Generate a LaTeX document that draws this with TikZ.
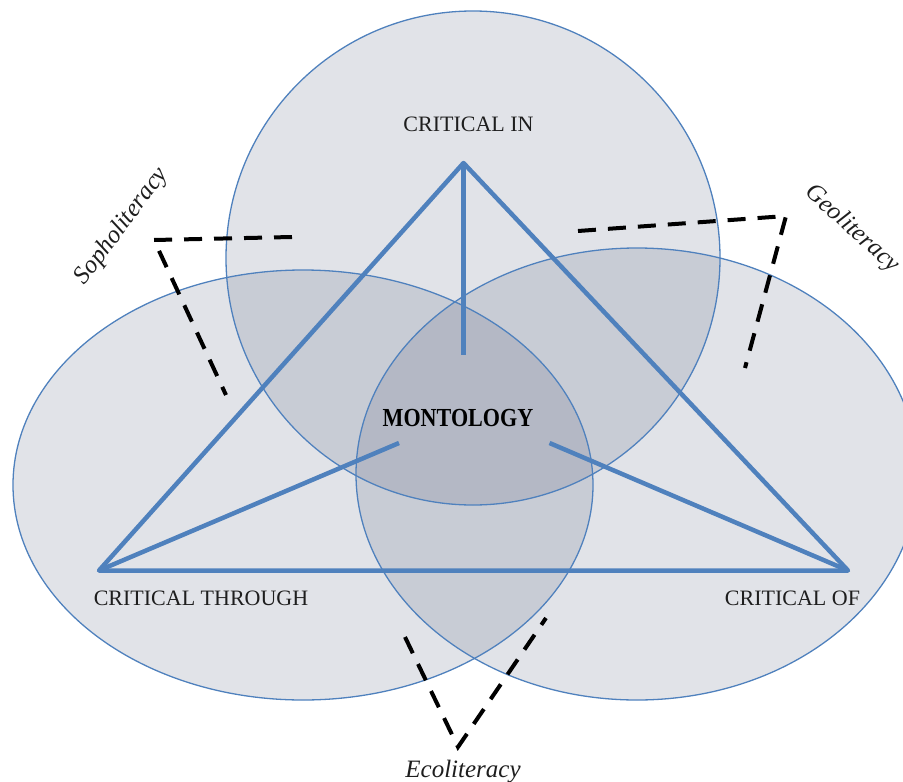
\documentclass[tikz,border=0pt]{standalone}
\usepackage{fontspec}
\setmainfont{Liberation Serif}
\newfontfamily\montfont[FakeStretch=0.85]{Liberation Serif}
\definecolor{vblue}{RGB}{79,129,189}
\definecolor{vfill}{RGB}{79,90,120}
\definecolor{vtext}{RGB}{30,30,30}
\begin{document}
\begin{tikzpicture}[x=1pt,y=-1pt,
  vennfill/.style={fill=vfill, fill opacity=0.17},
  vennline/.style={draw=vblue, line width=1.3pt},
  tri/.style={draw=vblue, line width=4.5pt, line join=round},
  dashline/.style={draw=black, line width=4pt, dash pattern=on 18pt off 12pt, line join=miter},
  lab/.style={font=\fontsize{22}{26}\selectfont, text=vtext, inner sep=0pt},
  ilab/.style={font=\fontsize{25}{30}\selectfont\itshape, text=vtext, inner sep=0pt}]
\useasboundingbox (0,0) rectangle (903,782);
\clip (0,0) rectangle (903,782);
% Venn shapes
\fill[vennfill] (473,258) circle (247pt);
\fill[vennfill] (303,485) ellipse [x radius=290pt, y radius=215pt];
\fill[vennfill] (637,474) ellipse [x radius=281pt, y radius=226pt];
\draw[vennline] (473,258) circle (247pt);
\draw[vennline] (303,485) ellipse [x radius=290pt, y radius=215pt];
\draw[vennline] (637,474) ellipse [x radius=281pt, y radius=226pt];
% triangle
\coordinate (A) at (463.5,163);
\coordinate (B) at (99,570.5);
\coordinate (C) at (848,570.5);
\coordinate (Ai) at (463.5,355);
\coordinate (Bi) at (399,443);
\coordinate (Ci) at (549.5,443);
\draw[tri] (A) -- (B) -- (C) -- cycle;
\draw[tri] (A) -- (Ai);
\draw[tri] (B) -- (Bi);
\draw[tri] (C) -- (Ci);
% dashed brackets
\coordinate (s1) at (292,237);
\coordinate (s2) at (154,240);
\coordinate (s3) at (226,395);
\coordinate (g1) at (578,231);
\coordinate (g2) at (786,216);
\coordinate (g3) at (745,368);
\coordinate (e1) at (405,637);
\coordinate (e2) at (458,747);
\coordinate (e3) at (546,618);
\draw[dashline] (s1) -- (s2) -- (s3);
\draw[dashline] (g1) -- (g2) -- (g3);
\draw[dashline] (e1) -- (e2) -- (e3);
% labels
\node[lab] (cin) at (468.5,124) {CRITICAL IN};
\node[lab] (cthr) at (201,598) {CRITICAL THROUGH};
\node[lab] (cof) at (792.5,598) {CRITICAL OF};
\node[font=\montfont\bfseries\fontsize{26}{30}\selectfont, text=black, inner sep=0pt] (mont) at (458,418) {MONTOLOGY};
\node[ilab, anchor=base] (eco) at (463,777) {Ecoliteracy};
\node[ilab, rotate=53] (sopho) at (122,226) {Sopholiteracy};
\node[ilab, rotate=-42] (geo) at (852,229) {Geoliteracy};
\end{tikzpicture}
\end{document}
